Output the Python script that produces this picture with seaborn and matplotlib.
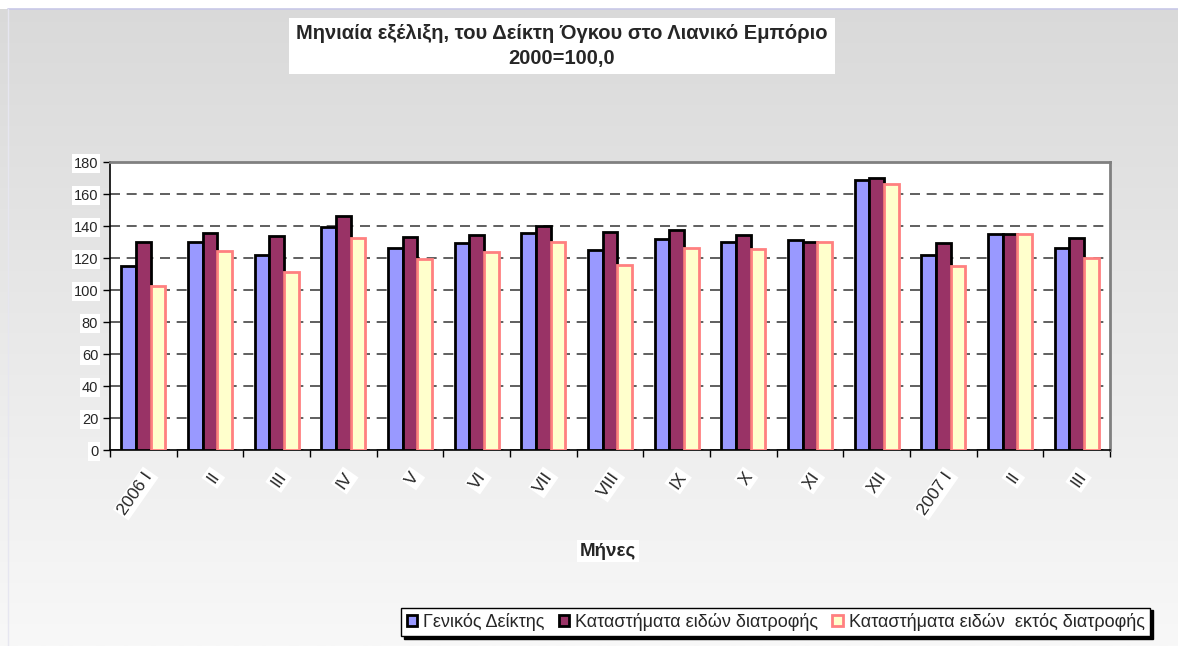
import numpy as np
import pandas as pd
import matplotlib
matplotlib.use("Agg")
import matplotlib.pyplot as plt
from matplotlib.patches import Rectangle
from matplotlib.colors import LinearSegmentedColormap
import seaborn as sns

months = ["2006 I", "II", "III", "IV", "V", "VI", "VII", "VIII", "IX", "X", "XI", "XII", "2007 I", "II", "III"]
series_names = ["Γενικός Δείκτης", "Καταστήματα ειδών διατροφής", "Καταστήματα ειδών  εκτός διατροφής"]
general = [115, 130, 122, 139.3, 126.2, 129.3, 135.4, 125.2, 132, 130, 131, 169, 121.8, 135.2, 126.2]
food = [130, 135.8, 134, 146, 133, 134.3, 140, 136.2, 137.5, 134.1, 129.7, 170, 129.5, 135.2, 132.7]
nonfood = [102.2, 124.5, 111, 132.5, 119.5, 123.9, 130.2, 115.8, 126.4, 125.8, 130, 166.5, 114.7, 134.8, 120]
yticks = [0, 20, 40, 60, 80, 100, 120, 140, 160, 180]

title = "Μηνιαία εξέλιξη, του Δείκτη Όγκου στο Λιανικό Εμπόριο\n2000=100,0"
xlabel = "Μήνες"

fills = ["#9999FF", "#993366", "#FFFFCC"]
edges = ["#000000", "#000000", "#FF8080"]

ids = [str(i) for i in range(len(months))]
df = pd.DataFrame({
    "pos": ids * 3,
    "value": general + food + nonfood,
    "series": [series_names[0]] * len(ids) + [series_names[1]] * len(ids) + [series_names[2]] * len(ids),
})

sns.set_theme(style="white")
plt.rcParams["font.family"] = ["Liberation Sans", "DejaVu Sans"]

fig = plt.figure(figsize=(11.78, 6.46), dpi=100)

# background gradient
bg = fig.add_axes([0, 0, 1, 1], zorder=-10)
grad = np.linspace(0, 1, 256).reshape(-1, 1)
cmap = LinearSegmentedColormap.from_list("bg", ["#D9D9D9", "#F8F8F8"])
bg.imshow(grad, aspect="auto", cmap=cmap, extent=[0, 1, 0, 1], origin="upper")
bg.add_patch(Rectangle((0, 1 - 9 / 646), 1, 9 / 646, facecolor="white", edgecolor="none"))
bg.plot([8 / 1178, 1], [1 - 9 / 646, 1 - 9 / 646], color="#C8C8E8", lw=1.2)
bg.plot([8 / 1178, 8 / 1178], [0, 1 - 9 / 646], color="#E6E6F0", lw=1)
bg.set_xlim(0, 1)
bg.set_ylim(0, 1)
bg.axis("off")

ax = fig.add_axes([110 / 1178, 1 - 450 / 646, 1000 / 1178, 288 / 646])
sns.barplot(data=df, x="pos", y="value", hue="series", order=ids, hue_order=series_names,
            palette=dict(zip(series_names, fills)), width=0.66, ax=ax, saturation=1,
            errorbar=None, legend=True)
for cont, ec in zip(ax.containers, edges):
    for bar in cont:
        bar.set_edgecolor(ec)
        bar.set_linewidth(2.0)
        bar.set_zorder(3)

ax.set_facecolor("white")
ax.set_ylim(0, 180)
ax.set_xlim(-0.5, len(months) - 0.5)
ax.set_yticks(yticks)
ax.set_yticklabels([str(v) for v in yticks], fontsize=10.5)
ax.yaxis.grid(True, linestyle=(0, (6, 4)), color="#444444", linewidth=1.2, zorder=0)
ax.set_axisbelow(True)
ax.set_xticks(range(len(months)))
ax.set_xticklabels(months, rotation=55, ha="right", rotation_mode="anchor", fontsize=12.5)
ax.set_xticks(np.arange(-0.5, len(months)), minor=True)
ax.tick_params(axis="x", which="major", length=0, pad=14)
ax.tick_params(axis="x", which="minor", length=5, width=1, color="black", direction="out", bottom=True)
ax.tick_params(axis="y", length=5, width=1, color="black", direction="out", left=True)
for lbl in ax.get_xticklabels() + ax.get_yticklabels():
    lbl.set_bbox(dict(facecolor="white", edgecolor="none", pad=1.5))
for s in ["left", "bottom"]:
    ax.spines[s].set_color("black")
    ax.spines[s].set_linewidth(1.2)
for s in ["top", "right"]:
    ax.spines[s].set_color("#808080")
    ax.spines[s].set_linewidth(2)
ax.set_xlabel("")
ax.set_ylabel("")

handles, labels = ax.get_legend_handles_labels()
ax.get_legend().remove()
for h, ec in zip(handles, edges):
    h.set_edgecolor(ec)
    h.set_linewidth(2)
leg = fig.legend(handles, labels, loc="center", bbox_to_anchor=(775.5 / 1178, 1 - 622 / 646),
                 ncol=3, fontsize=13, frameon=True, fancybox=False, shadow={"color": "black", "alpha": 1},
                 edgecolor="black", framealpha=1, handlelength=0.6, handleheight=0.6,
                 handletextpad=0.3, columnspacing=0.8, borderpad=0.3, borderaxespad=0)
leg.get_frame().set_linewidth(1)

fig.text(562 / 1178, 1 - 46 / 646, title, ha="center", va="center", fontsize=14.5,
         fontweight="bold", linespacing=1.35,
         bbox=dict(facecolor="white", edgecolor="none", pad=5))
fig.text(608 / 1178, 1 - 551 / 646, xlabel, ha="center", va="center", fontsize=13.5,
         fontweight="bold", bbox=dict(facecolor="white", edgecolor="none", pad=2))

fig.savefig("out.png", dpi=100)
